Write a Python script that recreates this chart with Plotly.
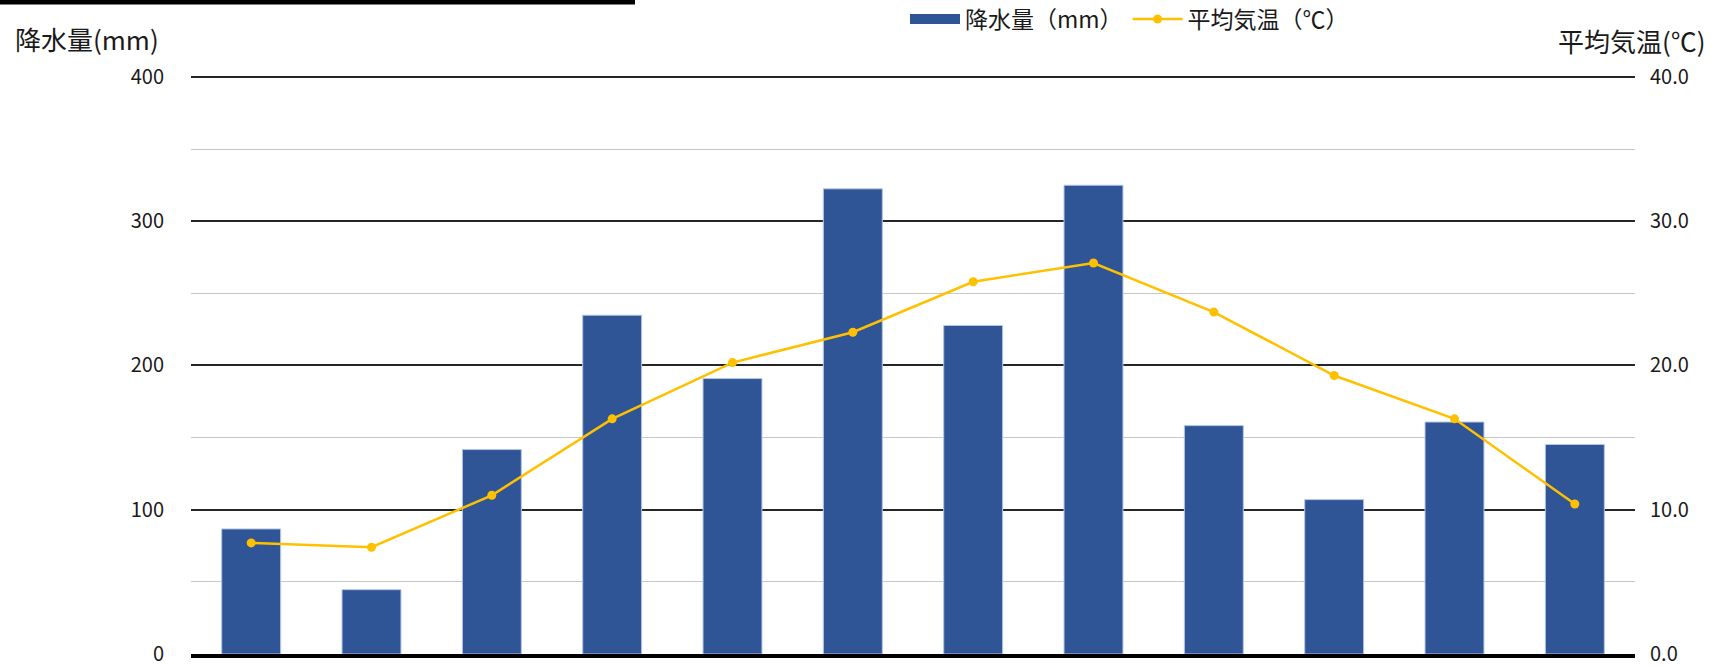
import plotly.graph_objects as go

months = ["1月", "2月", "3月", "4月", "5月", "6月", "7月", "8月", "9月", "10月", "11月", "12月"]
precip = [86.7, 44.6, 141.7, 234.8, 190.9, 322.4, 227.7, 324.9, 158.3, 107.0, 160.8, 145.2]
temp = [7.7, 7.4, 11.0, 16.3, 20.2, 22.3, 25.8, 27.1, 23.7, 19.3, 16.3, 10.4]
precip_ticks = [0, 100, 200, 300, 400]
temp_ticks = [0, 10, 20, 30, 40]

W, H = 1717, 667
L, R, T, B = 191, 82, 74, 13
pw, ph = W - L - R, H - T - B

FONT = "Noto Sans CJK JP"
TXT = "#1a1a1a"
BAR = "#2F5597"

fig = go.Figure()
fig.add_trace(go.Bar(
    x=months, y=precip, name="降水量（mm）", showlegend=False,
    marker=dict(color=BAR, line=dict(color="#B4C7E7", width=1)),
    yaxis="y",
))
# legend swatch for the bars (wide rectangle like the reference)
fig.add_trace(go.Scatter(
    x=[None], y=[None], name="降水量（mm）", mode="lines",
    line=dict(color=BAR, width=14), yaxis="y", hoverinfo="skip",
))
fig.add_trace(go.Scatter(
    x=months, y=temp, name="平均気温（℃）", mode="lines+markers",
    line=dict(color="#FFC000", width=2.5),
    marker=dict(color="#FFC000", size=9),
    yaxis="y2",
))

fig.update_layout(
    width=W, height=H,
    margin=dict(l=L, r=R, t=T, b=B, autoexpand=False),
    paper_bgcolor="white", plot_bgcolor="white",
    font=dict(family=FONT, size=20, color=TXT),
    bargap=0.51,
    showlegend=True,
    legend=dict(
        orientation="h", x=(905 - L) / pw, xanchor="left",
        y=(H - B - 19) / ph, yanchor="middle",
        font=dict(size=23, family=FONT, color=TXT),
        itemwidth=50, bgcolor="rgba(0,0,0,0)",
    ),
    xaxis=dict(
        type="category", range=[-0.5, len(months) - 0.5],
        showticklabels=False, ticks="",
        showgrid=False, zeroline=False,
        showline=True, linecolor="#000000", linewidth=4,
    ),
    yaxis=dict(
        range=[0, 402], tickvals=precip_ticks, ticktext=[str(v) for v in precip_ticks],
        showgrid=True, gridcolor="#262626", gridwidth=1.5,
        minor=dict(dtick=50, tick0=0, showgrid=True, gridcolor="#C8C8C8", gridwidth=1),
        zeroline=False, showline=False, ticks="",
        ticklabelstandoff=26,
        tickfont=dict(size=20, family=FONT, color=TXT),
    ),
    yaxis2=dict(
        range=[0, 40.2], tickvals=temp_ticks, ticktext=[f"{v:.1f}" for v in temp_ticks],
        overlaying="y", side="right", showgrid=False, zeroline=False,
        showline=False, ticks="", ticklabelstandoff=14,
        tickfont=dict(size=20, family=FONT, color=TXT),
    ),
    annotations=[
        dict(text="降水量(mm)", xref="paper", yref="paper",
             x=(13 - L) / pw, y=(H - B - 38) / ph, xanchor="left", yanchor="middle",
             showarrow=False, font=dict(size=26, family=FONT, color=TXT)),
        dict(text="平均気温(℃)", xref="paper", yref="paper",
             x=(1708 - L) / pw, y=(H - B - 40) / ph, xanchor="right", yanchor="middle",
             showarrow=False, font=dict(size=26, family=FONT, color=TXT)),
    ],
    shapes=[
        dict(type="rect", xref="paper", yref="paper",
             x0=(0 - L) / pw, x1=(635 - L) / pw,
             y0=(H - B - 4.5) / ph, y1=(H - B + 2) / ph,
             fillcolor="#000000", line=dict(width=0), layer="above"),
    ],
)

fig.write_html("out.html")
